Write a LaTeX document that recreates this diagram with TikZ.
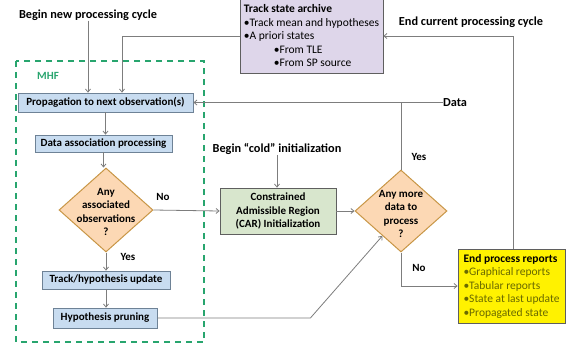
\documentclass[tikz,border=0pt]{standalone}
\usepackage{fontspec}
\setmainfont{Carlito}
\usetikzlibrary{shapes.geometric,arrows.meta,calc}
\definecolor{boxblue}{RGB}{200,220,240}
\definecolor{boxblueline}{RGB}{110,130,150}
\definecolor{peach}{RGB}{252,216,180}
\definecolor{peachline}{RGB}{200,150,70}
\definecolor{carfill}{RGB}{216,230,205}
\definecolor{lav}{RGB}{222,214,234}
\definecolor{mhfgreen}{RGB}{40,165,110}
\definecolor{olive}{RGB}{105,105,0}
\definecolor{conn}{RGB}{125,125,125}
\definecolor{bordergray}{RGB}{95,95,95}
\tikzset{
  procbox/.style={draw=boxblueline,fill=boxblue,line width=0.8pt,inner sep=1pt,font=\fontsize{11}{12}\selectfont\bfseries},
  decbox/.style={draw=peachline,fill=peach,line width=1pt,shape=diamond,inner sep=0pt},
  dectext/.style={align=center,font=\fontsize{11}{13.5}\selectfont\bfseries,inner sep=0pt},
  headtext/.style={font=\fontsize{12.3}{14}\selectfont\bfseries,inner sep=0pt},
  lbl/.style={font=\fontsize{11}{12}\selectfont\bfseries,inner sep=0pt},
  conarrow/.style={draw=conn,line width=0.8pt,-{Straight Barb[length=3pt,width=5pt]}},
  conline/.style={draw=conn,line width=0.8pt}
}
\begin{document}
\begin{tikzpicture}[x=1pt,y=-1pt]
\useasboundingbox (0,0) rectangle (566,349);
% MHF dashed container
\draw[mhfgreen,line width=1.5pt,dash pattern=on 6pt off 5pt] (16,61) rectangle (204,342);
\node[text=mhfgreen,font=\fontsize{11}{12}\selectfont\bfseries,inner sep=0pt] (mhf) at (48,76) {MHF};

% headings
\node[headtext] (bnew) at (88,15) {Begin new processing cycle};
\node[headtext] (bend) at (471,22) {End current processing cycle};
\node[headtext] (cold) at (277,149) {Begin “cold” initialization};
\node[headtext] (data) at (455,102.5) {Data};

% archive
\node[draw=bordergray,fill=lav,line width=0.8pt,minimum width=143pt,minimum height=74pt,align=left,inner sep=0pt,
      font=\fontsize{11.5}{13.5}\selectfont] (arch) at (311.5,36) {%
  \textbf{Track state archive}\\
  •Track mean and hypotheses\\
  •A priori states\\
  \hspace*{30pt}•From TLE\\
  \hspace*{30pt}•From SP source};

% MHF boxes
\node[procbox,minimum width=175pt,minimum height=19pt] (prop) at (105.5,102.5) {Propagation to next observation(s)};
\node[procbox,minimum width=137pt,minimum height=17pt] (da) at (103.5,143.5) {Data association processing};
\node[decbox,minimum width=94pt,minimum height=84pt] (d1) at (106,210) {};
\node[dectext] (d1t) at (106,212) {Any\\associated\\observations\\?};
\node[procbox,minimum width=128pt,minimum height=18pt] (tu) at (106,280) {Track/hypothesis update};
\node[procbox,minimum width=104pt,minimum height=20pt] (hp) at (105,318) {Hypothesis pruning};

% CAR
\node[draw=bordergray,fill=carfill,line width=0.8pt,minimum width=116pt,minimum height=46pt,align=center,inner sep=0pt,
      font=\fontsize{11}{13.5}\selectfont\bfseries] (car) at (278,211) {Constrained\\Admissible Region\\(CAR) Initialization};

% second decision
\node[decbox,minimum width=92pt,minimum height=82pt] (d2) at (401,211) {};
\node[dectext] (d2t) at (401,214) {Any more\\data to\\process\\?};

% end reports
\node[draw=bordergray,fill=yellow,line width=0.8pt,minimum width=107pt,minimum height=74pt,align=left,inner sep=0pt,
      font=\fontsize{11.5}{13.5}\selectfont] (endb) at (511.5,286) {%
  \textbf{End process reports}\\
  \textcolor{olive}{•Graphical reports}\\
  \textcolor{olive}{•Tabular reports}\\
  \textcolor{olive}{•State at last update}\\
  \textcolor{olive}{•Propagated state}};

% labels
\node[lbl] (no1) at (163,197) {No};
\node[lbl] (yes1) at (128,257) {Yes};
\node[lbl] (yes2) at (419,157) {Yes};
\node[lbl] (no2) at (419,268) {No};

% connectors
\draw[conarrow] (bnew.south) -- (bnew.south |- prop.north);
\draw[conarrow] (arch.west) -| ([xshift=16.5pt]prop.north);
\draw[conarrow] (data.west) -- (prop.east);
\draw[conline] (d2.north) -- (d2.north |- data.west);
\draw[conarrow] (prop.south) -- (prop.south |- da.north);
\draw[conarrow] (da.south) -- (da.south |- d1.north);
\draw[conarrow] (d1.east) -- (car.west);
\draw[conarrow] (d1.south) -- (d1.south |- tu.north);
\draw[conarrow] (tu.south) -- (tu.south |- hp.north);
\draw[conarrow] (hp.east) -- ++(153,0) -- ($(d2.south)!0.4!(d2.west)$);
\draw[conarrow] (cold.south) -- (cold.south |- car.north);
\draw[conarrow] (car.east) -- (d2.west);
\draw[conarrow] (d2.south) |- (endb.west);
\draw[conarrow] ([xshift=1.5pt]endb.north) |- (arch.east);
\end{tikzpicture}
\end{document}
